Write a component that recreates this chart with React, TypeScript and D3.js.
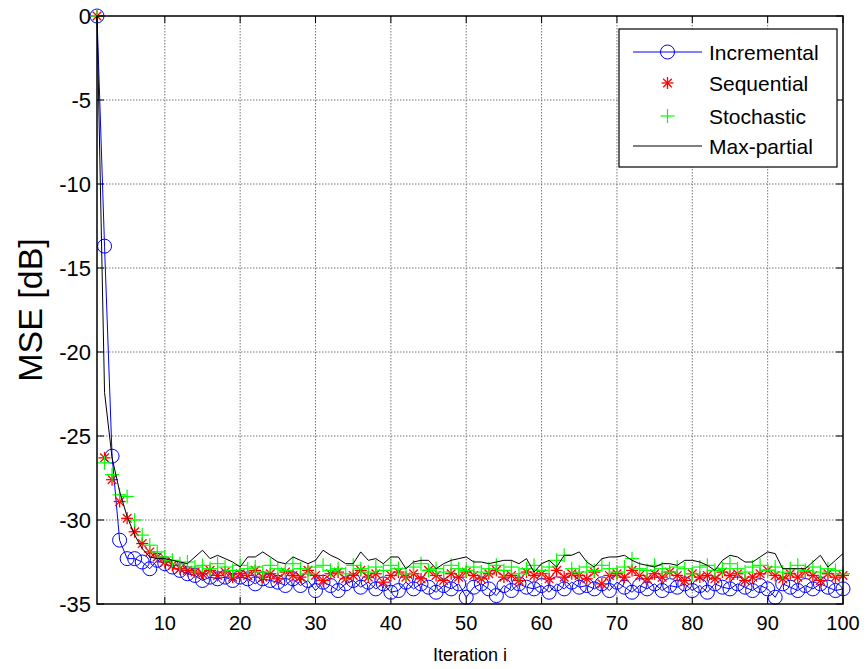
import React from "react";
import * as d3 from "d3";

const iterations: number[] = d3.range(1, 101);

const incremental: number[] = [
  0, -13.7, -26.2, -31.2, -32.3, -32.3, -32.5, -32.9, -32.4, -32.6,
  -32.8, -33.0, -33.2, -33.3, -33.6, -33.4, -33.5, -33.4, -33.6, -33.4,
  -33.5, -33.8, -33.5, -33.6, -33.7, -33.9, -33.5, -33.9, -33.6, -34.2,
  -33.7, -33.9, -34.2, -33.8, -33.6, -34.0, -33.7, -34.1, -33.8, -34.3,
  -34.2, -33.7, -34.1, -33.8, -34.0, -34.3, -33.9, -34.1, -33.8, -34.6,
  -34.0, -33.8, -34.1, -34.5, -33.9, -34.2, -33.8, -34.0, -34.1, -33.9,
  -34.3, -33.8, -34.1, -33.7, -34.0, -33.9, -34.1, -33.8, -34.2, -33.7,
  -34.0, -34.3, -33.9, -34.1, -33.8, -34.2, -33.9, -34.0, -33.8, -34.2,
  -33.9, -34.3, -33.8, -34.0, -34.1, -33.8, -34.0, -34.2, -33.9, -34.1,
  -34.6, -33.8, -34.0, -34.2, -33.9, -34.1, -33.8, -34.0, -34.2, -34.1,
];

const sequential: number[] = [
  0, -26.3, -27.6, -28.9, -29.9, -30.7, -31.4, -31.9, -32.2, -32.5,
  -32.7, -32.9, -33.0, -33.1, -33.2, -33.0, -33.3, -33.1, -33.4, -33.2,
  -33.3, -33.0, -33.4, -33.2, -33.5, -33.1, -33.3, -33.4, -33.0, -33.3,
  -33.6, -33.2, -33.1, -33.5, -33.3, -33.0, -33.4, -33.2, -33.7, -33.3,
  -33.1, -33.4, -33.2, -33.5, -33.0, -33.3, -33.6, -33.2, -33.4, -33.1,
  -33.3, -33.5, -33.2, -33.0, -33.4, -33.3, -33.6, -33.1, -33.3, -33.2,
  -33.5, -33.0, -33.4, -33.2, -33.3, -33.5, -33.1, -33.8, -33.3, -33.2,
  -33.4, -33.0, -33.3, -33.5, -33.2, -33.4, -33.1, -33.3, -33.6, -33.2,
  -33.4, -33.3, -33.5, -33.1, -33.3, -33.2, -33.6, -33.4, -33.2, -33.0,
  -33.3, -33.5, -33.2, -33.4, -33.1, -33.3, -33.6, -33.2, -33.4, -33.3,
];

const stochastic: number[] = [
  0, -26.6, -27.3, -28.5, -28.6, -30.0, -30.9, -31.5, -31.9, -32.2,
  -32.4, -32.6, -32.5, -32.8, -32.7, -32.9, -32.6, -32.8, -33.0, -32.7,
  -32.9, -32.8, -33.1, -32.7, -32.9, -33.0, -32.6, -32.9, -33.2, -32.8,
  -32.7, -33.0, -32.9, -33.2, -32.7, -32.9, -33.1, -32.8, -33.0, -32.7,
  -32.9, -33.2, -32.8, -32.6, -33.0, -32.9, -33.1, -32.7, -32.9, -33.0,
  -32.8, -33.1, -32.9, -32.7, -33.0, -32.8, -33.2, -32.9, -32.7, -33.0,
  -32.8, -32.4, -32.1, -32.9, -33.1, -32.8, -33.0, -32.7, -32.9, -33.1,
  -32.8, -32.3, -32.9, -33.0, -32.7, -32.9, -33.1, -32.8, -32.9, -33.2,
  -32.8, -32.7, -33.0, -32.9, -32.6, -32.9, -33.1, -32.8, -32.7, -33.0,
  -32.8, -33.1, -32.9, -32.7, -33.0, -32.8, -33.1, -32.9, -33.0, -33.2,
];

const maxPartial: number[] = [
  0, -22.4, -26.3, -28.3, -29.8, -30.9, -31.7, -32.2, -32.3, -32.3,
  -32.4, -32.5, -32.6, -32.2, -31.8, -32.3, -32.1, -32.3, -32.5, -32.8,
  -32.2, -32.2, -31.9, -32.2, -32.5, -32.6, -32.2, -32.4, -32.6, -32.4,
  -31.8, -32.1, -32.3, -32.6, -32.6, -31.9, -32.4, -32.3, -32.6, -32.2,
  -32.2, -32.9, -32.5, -32.4, -32.4, -32.9, -32.6, -32.4, -32.3, -32.2,
  -32.5, -32.5, -32.6, -32.5, -32.4, -32.4, -32.6, -32.3, -33.1, -32.6,
  -32.4, -32.8, -32.1, -32.1, -31.9, -32.5, -32.8, -32.3, -32.2, -32.2,
  -32.1, -32.4, -32.6, -32.7, -32.8, -32.6, -32.6, -32.7, -32.4, -32.4,
  -32.5, -32.7, -33.0, -32.4, -32.1, -32.2, -32.5, -32.5, -32.2, -31.9,
  -32.0, -32.9, -32.9, -32.9, -32.9, -32.5, -32.1, -32.8, -32.4, -32.0,
];

const xTicks: number[] = [10, 20, 30, 40, 50, 60, 70, 80, 90, 100];
const yTicks: number[] = [0, -5, -10, -15, -20, -25, -30, -35];
const legendLabels: string[] = ["Incremental", "Sequential", "Stochastic", "Max-partial"];

const W = 867;
const H = 669;
const left = 97;
const right = 843;
const top = 16;
const bottom = 604;
const FONT = "'Liberation Sans', Arial, Helvetica, sans-serif";

const BLUE = "#0000ff";
const RED = "#ff0000";
const GREEN = "#00ff00";

function Asterisk({ x, y, s, color }: { x: number; y: number; s: number; color: string }) {
  const d = s * 0.72;
  return (
    <g stroke={color} strokeWidth={1.3}>
      <line x1={x - s} y1={y} x2={x + s} y2={y} />
      <line x1={x} y1={y - s} x2={x} y2={y + s} />
      <line x1={x - d} y1={y - d} x2={x + d} y2={y + d} />
      <line x1={x - d} y1={y + d} x2={x + d} y2={y - d} />
    </g>
  );
}

function Plus({ x, y, s, color }: { x: number; y: number; s: number; color: string }) {
  return (
    <g stroke={color} strokeWidth={1.2}>
      <line x1={x - s} y1={y} x2={x + s} y2={y} />
      <line x1={x} y1={y - s} x2={x} y2={y + s} />
    </g>
  );
}

export default function App() {
  const x = d3.scaleLinear().domain([1, 100]).range([left, right]);
  const y = d3.scaleLinear().domain([-35, 0]).range([bottom, top]);

  const line = d3
    .line<number>()
    .x((_, i) => x(iterations[i]))
    .y((v) => y(v));

  const tickLen = 7;

  const legX = 619;
  const legY = 29;
  const legW = 218;
  const legH = 138;
  const rowY = [52, 83, 116, 146];
  const lineX1 = 633;
  const lineX2 = 702;
  const mid = (lineX1 + lineX2) / 2;
  const textX = 709;

  return (
    <svg
      width={W}
      height={H}
      style={{ position: "absolute", left: 0, top: 0, background: "#fff" }}
      fontFamily={FONT}
    >
      <rect x={0} y={0} width={W} height={H} fill="#fff" />
      {/* grid */}
      <g stroke="#777" strokeWidth={1} strokeDasharray="1.5,1.5">
        {xTicks
          .filter((t) => t < 100)
          .map((t) => (
            <line key={"gx" + t} x1={x(t)} x2={x(t)} y1={top} y2={bottom} />
          ))}
        {yTicks
          .filter((t) => t < 0 && t > -35)
          .map((t) => (
            <line key={"gy" + t} x1={left} x2={right} y1={y(t)} y2={y(t)} />
          ))}
      </g>

      {/* ticks */}
      <g stroke="#000" strokeWidth={1}>
        {xTicks.map((t) => (
          <g key={"tx" + t}>
            <line x1={x(t)} x2={x(t)} y1={bottom} y2={bottom - tickLen} />
            <line x1={x(t)} x2={x(t)} y1={top} y2={top + tickLen} />
          </g>
        ))}
        {yTicks.map((t) => (
          <g key={"ty" + t}>
            <line x1={left} x2={left + tickLen} y1={y(t)} y2={y(t)} />
            <line x1={right} x2={right - tickLen} y1={y(t)} y2={y(t)} />
          </g>
        ))}
      </g>

      {/* series */}
      <path d={line(incremental) || ""} fill="none" stroke={BLUE} strokeWidth={1} />
      {incremental.map((v, i) => (
        <circle key={"c" + i} cx={x(iterations[i])} cy={y(v)} r={7} fill="none" stroke={BLUE} strokeWidth={1} />
      ))}
      {sequential.map((v, i) => (
        <Asterisk key={"s" + i} x={x(iterations[i])} y={y(v)} s={6} color={RED} />
      ))}
      {stochastic.map((v, i) => (
        <Plus key={"p" + i} x={x(iterations[i])} y={y(v)} s={7} color={GREEN} />
      ))}
      <path d={line(maxPartial) || ""} fill="none" stroke="#000" strokeWidth={1} />

      {/* frame */}
      <rect x={left} y={top} width={right - left} height={bottom - top} fill="none" stroke="#000" strokeWidth={1.5} />

      {/* tick labels */}
      <g fontSize={20} fill="#000">
        {xTicks.map((t) => (
          <text key={"lx" + t} x={x(t)} y={bottom + 26} textAnchor="middle">
            {t}
          </text>
        ))}
      </g>
      <g fontSize={22} fill="#000">
        {yTicks.map((t) => (
          <text key={"ly" + t} x={left - 6} y={y(t) + 8} textAnchor="end">
            {t}
          </text>
        ))}
      </g>

      {/* axis labels */}
      <text x={(left + right) / 2} y={661} textAnchor="middle" fontSize={18}>
        Iteration i
      </text>
      <text
        transform={`translate(42, ${(top + bottom) / 2}) rotate(-90)`}
        textAnchor="middle"
        fontSize={34}
      >
        MSE [dB]
      </text>

      {/* legend */}
      <rect x={legX} y={legY} width={legW} height={legH} fill="#fff" stroke="#000" strokeWidth={1.2} />
      <line x1={lineX1} x2={lineX2} y1={rowY[0]} y2={rowY[0]} stroke={BLUE} strokeWidth={1} />
      <circle cx={mid} cy={rowY[0]} r={7} fill="none" stroke={BLUE} strokeWidth={1} />
      <Asterisk x={mid} y={rowY[1]} s={6} color={RED} />
      <Plus x={mid} y={rowY[2]} s={7} color={GREEN} />
      <line x1={lineX1} x2={lineX2} y1={rowY[3]} y2={rowY[3]} stroke="#000" strokeWidth={1} />
      <g fontSize={21} fill="#000">
        {legendLabels.map((l, i) => (
          <text key={l} x={textX} y={rowY[i] + 7.5}>
            {l}
          </text>
        ))}
      </g>
    </svg>
  );
}
